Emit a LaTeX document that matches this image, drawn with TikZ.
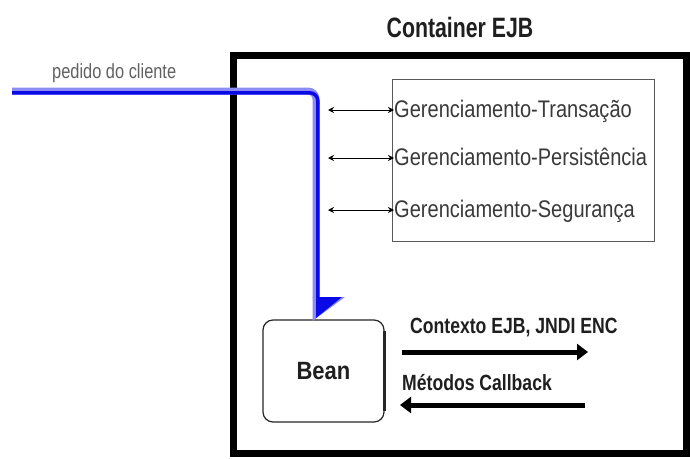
\documentclass[tikz,border=0pt]{standalone}
\usepackage{fontspec}
\setmainfont{Liberation Sans}
\newfontfamily\condreg{Liberation Sans}[FakeStretch=0.835]
\newfontfamily\condsmall{Liberation Sans}[FakeStretch=0.80]
\newfontfamily\condbold{Liberation Sans}[FakeStretch=0.80]
\newfontfamily\condtitle{Liberation Sans}[FakeStretch=0.76]
\newfontfamily\condbean{Liberation Sans}[FakeStretch=0.88]
\usetikzlibrary{arrows.meta,calc}
\definecolor{reqblue}{HTML}{0A0AE6}
\definecolor{reqlight}{HTML}{8C8CF5}
\definecolor{txtgray}{HTML}{3A3A3A}
\tikzset{
  frame/.style={draw=black, line width=7pt, inner sep=0pt},
  svcbox/.style={draw=black!65, line width=1pt, inner sep=0pt},
  svctext/.style={anchor=base west, inner sep=0pt, text=txtgray, font=\condreg\fontsize{24}{24}\selectfont},
  boldtext/.style={inner sep=0pt, text=black!88, font=\condbold\bfseries\fontsize{22}{22}\selectfont},
  beanbox/.style={draw=black!85, line width=1.2pt, rounded corners=10pt, inner sep=0pt},
  link/.style={line width=0.9pt, {Stealth[length=6pt,width=6pt]}-{Stealth[length=6pt,width=6pt]}},
  fatarrow/.style={line width=5pt, -{Triangle[length=11pt,width=16pt]}},
}
\begin{document}
\begin{tikzpicture}[x=1pt,y=-1pt]
\useasboundingbox (0,0) rectangle (690,458);
\fill[white] (0,0) rectangle (690,458);

% container frame and title
\node[frame, minimum width=453pt, minimum height=398pt] (container) at (460,254.5) {};
\node[boldtext, anchor=base, font=\condtitle\bfseries\fontsize{28}{28}\selectfont] (title) at (460,37) {Container EJB};

% services box
\node[svcbox, minimum width=262pt, minimum height=162pt] (services) at (523,160) {};
\node[svctext] (tx) at (394,117) {Gerenciamento-Transação};
\node[svctext] (pe) at (394,165) {Gerenciamento-Persistência};
\node[svctext] (se) at (394,217) {Gerenciamento-Segurança};

% client request
\node[anchor=base west, inner sep=0pt, text=black!62, font=\condsmall\fontsize{20.5}{20.5}\selectfont] (req) at (52,78) {pedido do cliente};
\coordinate (reqstart) at (12,91);
\coordinate (reqbend) at (316,91);
\coordinate (reqend) at (316,298);

% bean
\node[beanbox, minimum width=121pt, minimum height=102pt] (bean) at (323.5,371) {};
\node[boldtext, font=\condbean\bfseries\fontsize{25}{25}\selectfont] (beanlbl) at (bean.center) {Bean};
\draw[black!85, line width=2.4pt] ($(bean.north east)+(0,12)$) -- ($(bean.south east)+(0,-12)$);

% request path into the bean
\draw[reqlight, line width=7pt, rounded corners=8pt] (reqstart) -- (reqbend) -- (reqend);
\draw[reqblue, line width=3.5pt, rounded corners=8pt] ($(reqstart)+(0,1.8)$) -- ($(reqbend)+(1.8,1.8)$) -- ($(reqend)+(1.8,0)$);
\fill[reqlight] ($(reqend)+(-3.5,-1)$) -- ($(reqend)+(29,-1)$) -- ($(reqend)+(-3.5,23)$) -- cycle;
\fill[reqblue] ($(reqend)+(0,-1)$) -- ($(reqend)+(26,-1)$) -- ($(reqend)+(0,20)$) -- cycle;

% service links
\coordinate (l1) at (328,110);
\coordinate (l2) at (328,158);
\coordinate (l3) at (328,210);
\draw[link] (l1) -- (l1 -| tx.west);
\draw[link] (l2) -- (l2 -| pe.west);
\draw[link] (l3) -- (l3 -| se.west);

% bean interactions
\node[boldtext, anchor=base west] (ctx) at (410,333) {Contexto EJB, JNDI ENC};
\node[boldtext, anchor=base west] (cb) at (402,390) {Métodos Callback};
\coordinate (a1s) at (402,352);
\coordinate (a1e) at (588,352);
\coordinate (a2s) at (585,405);
\coordinate (a2e) at (400,405);
\draw[fatarrow] (a1s) -- (a1e);
\draw[fatarrow] (a2s) -- (a2e);
\end{tikzpicture}
\end{document}
